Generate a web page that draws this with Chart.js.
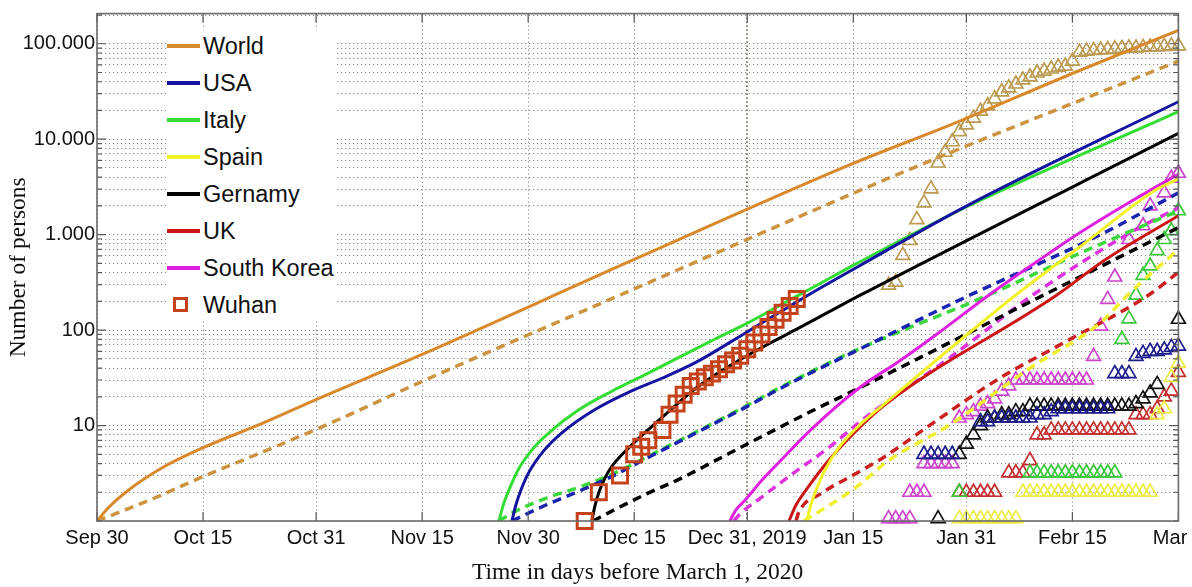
<!DOCTYPE html>
<html>
<head>
<meta charset="utf-8">
<script src="https://cdn.jsdelivr.net/npm/chart.js@4.4.1/dist/chart.umd.min.js"></script>
<style>
  body { margin: 0; background: #fff; }
  #wrap { position: relative; width: 1192px; height: 587px; }
  #legend { position: absolute; left: 166px; top: 30px; width: 171px; height: 291px; background: #fff;
            font-family: 'Liberation Sans', Arial, sans-serif; font-size: 23.5px; color: #111; }
  .row { position: absolute; left: 0; width: 171px; height: 28px; line-height: 28px; }
  .sample { position: absolute; left: 1px; top: 12px; width: 33px; height: 3.5px; }
  .box { position: absolute; left: 7px; top: 6px; width: 15px; height: 15px; box-sizing: border-box; border: 3px solid; }
  .label { position: absolute; left: 37px; top: 0; white-space: nowrap; }
</style>
</head>
<body>
<div id="wrap">
  <canvas id="myChart" width="1192" height="587"></canvas>
  <div id="legend"></div>
</div>
<script>
// AXES (x = days after Sep 30, 2019)
const xTickDays = [0, 15, 31, 46, 61, 76, 92, 107, 123, 138, 153];
const xTickLabels = ['Sep 30', 'Oct 15', 'Oct 31', 'Nov 15', 'Nov 30', 'Dec 15', 'Dec 31, 2019', 'Jan 15', 'Jan 31', 'Febr 15', 'Mar   '];
const yMajorValues = [10, 100, 1000, 10000, 100000];
const yMajorLabels = ['10', '100', '1.000', '10.000', '100.000'];
const yMin = 1;
const yMax = 207000;

// LEGEND
const legendNames = ['World', 'USA', 'Italy', 'Spain', 'Gernamy', 'UK', 'South Korea', 'Wuhan'];
const legendColors = ['#d8892b', '#1414a0', '#33dd33', '#f2f22a', '#000000', '#cc1616', '#e020e0', '#c4421c'];

// MODEL CURVES - solid
const worldFitDays = [0, 1.7, 4.24, 9.05, 14.71, 23.2, 30.83, 46, 76, 106.4, 121.9, 138.5, 153];
const worldFitCases = [1, 1.40, 2.05, 3.55, 5.73, 10.4, 18.5, 55.6, 550, 5350, 15300, 50600, 138000];
const usaFitDays = [58.7, 59.26, 59.97, 61.1, 63.22, 65.77, 70.58, 75.25, 79.92, 84.72, 91.8, 96.46, 101.13, 107.78, 123.06, 153];
const usaFitCases = [1, 1.47, 2.10, 3.23, 5.46, 8.4, 14.9, 22.4, 31.3, 45.9, 94, 152, 245, 467, 2005, 24700];
const italyFitDays = [56.86, 57.57, 58.56, 59.69, 61.81, 63.93, 68.17, 72.84, 77.65, 82.32, 86.99, 91.8, 96.46, 101.13, 107.78, 123.06, 153];
const italyFitCases = [1, 1.54, 2.36, 3.55, 5.87, 8.4, 14.6, 22.9, 34.4, 51.7, 77.6, 116, 179, 276, 513, 1960, 19400];
const spainFitDays = [100.42, 100.99, 101.84, 102.97, 104.95, 107.78, 111.03, 129.99, 139.32, 149.79, 153];
const spainFitCases = [1, 1.47, 2.2, 3.39, 5.87, 9.93, 16.0, 233, 771, 2940, 3830];
const germanyFitDays = [70.01, 70.44, 71.01, 71.85, 72.84, 75.25, 77.65, 80.48, 84.72, 89.39, 94.06, 98.87, 103.54, 107.78, 153];
const germanyFitCases = [1, 1.43, 2.0, 2.8, 3.73, 5.87, 8.6, 13.2, 24.6, 41.7, 65.6, 101, 155, 228, 11500];
const ukFitDays = [97.9, 98.9, 100.3, 103.5, 107.4, 111.6, 135.8, 142.7, 153];
const ukFitCases = [1, 1.47, 2.1, 4.3, 8.8, 16.8, 233, 550, 1580];
const koreaFitDays = [89.53, 90.38, 91.8, 94.06, 96.46, 101.13, 107.78, 113.44, 119.1, 126.59, 133.24, 139.32, 145.97, 153];
const koreaFitCases = [1, 1.30, 1.69, 2.67, 4.10, 9.24, 24.6, 47, 94, 245, 538, 1077, 2155, 4300];

// MODEL CURVES - dashed
const worldDashDays = [0, 4.24, 9.05, 14.71, 23.2, 32.53, 46, 76, 114.4, 153];
const worldDashCases = [1, 1.33, 1.86, 2.86, 5.2, 10.2, 29, 270, 4630, 65800];
const usaDashDays = [58.7, 63.51, 68.17, 72.84, 77.65, 82.32, 86.99, 91.8, 96.46, 101.13, 107.78, 122.35, 141.73, 153];
const usaDashCases = [1, 1.47, 2.05, 2.93, 4.51, 6.77, 10.2, 15.6, 24.0, 36.1, 62.6, 212, 979, 2740];
const italyDashDays = [56.86, 58.7, 63.51, 68.17, 72.84, 77.65, 82.32, 86.99, 91.8, 96.46, 101.13, 107.78, 125.46, 139.32, 153];
const italyDashCases = [1, 1.21, 1.73, 2.25, 3.08, 4.62, 6.94, 10.4, 16.0, 24.6, 37.0, 63.5, 222, 652, 1780];
const spainDashDays = [100, 102.5, 107.4, 112, 120.5, 132, 142, 146, 153];
const spainDashCases = [1, 1.3, 2.25, 4.3, 10, 40, 120, 240, 700];
const germanyDashDays = [70.16, 72.84, 77.65, 82.32, 86.99, 91.8, 96.46, 101.13, 107.78, 133.94, 153];
const germanyDashCases = [1, 1.27, 1.91, 2.73, 4.10, 6.3, 9.46, 14.2, 24.6, 233, 1185];
const ukDashDays = [98.9, 99.3, 102.5, 107.4, 111, 118.1, 127.6, 137.1, 148.8, 153];
const ukDashCases = [1, 1.24, 1.95, 3.15, 4.5, 10.4, 31, 76, 233, 404];
const koreaDashDays = [90.1, 90.95, 94.06, 98.87, 103.54, 107.78, 110.18, 120.51, 132.81, 146.96, 153];
const koreaDashCases = [1, 1.18, 1.78, 3.31, 5.87, 10.7, 14.6, 50.5, 245, 1130, 1910];

// REPORTED CASES (markers)
const wuhanDays = [69, 71, 74, 76, 77, 78, 80, 81, 82, 83, 84, 85, 86, 87, 88, 89, 90, 91, 92, 93, 94, 95, 96, 97, 98, 99];
const wuhanCases = [1, 2, 3, 5, 6, 7, 9, 13, 17, 21, 26, 29, 32, 35, 39, 44, 48, 54, 63, 74, 90, 108, 128, 152, 179, 212];
const worldDataDays = [112, 113, 114, 115, 116, 117, 118, 119, 120, 121, 122, 123, 124, 125, 126, 127, 128, 129, 130, 131, 132,
  133, 134, 135, 136, 137, 138, 139, 140, 141, 142, 143, 144, 145, 146, 147, 148, 149, 150, 151, 152, 153];
const worldDataCases = [296, 318, 607, 868, 1436, 2155, 3020, 5630, 7300, 9400, 12000, 14100, 16600, 19700, 22400, 26500, 31400,
  34500, 37900, 41800, 44900, 49400, 51800, 54400, 57000, 58400, 65800, 81600, 83600, 85000, 86000, 87000, 88500, 89500,
  90500, 90500, 91600, 92700, 92700, 93800, 94900, 94900];
const usaDataDays = [117, 118, 119, 120, 121, 125, 126, 127, 128, 129, 130, 131, 132, 133, 134, 135, 136, 137, 138, 139, 140,
  141, 142, 143, 144, 145, 146, 147, 148, 149, 150, 151, 152, 153];
const usaDataCases = [5, 5, 5, 5, 5, 11, 11, 12, 12, 12, 12, 12, 12, 13, 13, 14, 15, 15, 15, 15, 15,
  15, 15, 15, 35, 35, 35, 53, 57, 60, 60, 62, 66, 68];
const italyDataDays = [122, 132, 133, 134, 135, 136, 137, 138, 139, 140, 141, 142, 143, 144, 145, 146, 147, 148, 149, 150, 151, 152, 153];
const italyDataCases = [2, 3.2, 3.2, 3.2, 3.2, 3.2, 3.2, 3.2, 3.2, 3.2, 3.2, 3.2, 3.2, 3.2, 80, 131, 233, 375, 470, 680, 890, 1100, 1780];
const spainDataDays = [122, 123, 124, 125, 126, 127, 128, 129, 130, 131, 132, 133, 134, 135, 136, 137, 138, 139, 140,
  141, 142, 143, 144, 145, 146, 147, 148, 149, 150, 151, 152, 153];
const spainDataCases = [1.06, 1.06, 1.06, 1.06, 1.06, 1.06, 1.06, 1.06, 1.06, 2, 2, 2, 2, 2, 2, 2, 2, 2, 2,
  2, 2, 2, 2, 2, 2, 2, 2, 2, 13, 15, 32, 45];
const germanyDataDays = [119, 122, 123, 124, 125, 126, 127, 128, 129, 130, 131, 132, 133, 134, 135, 136, 137, 138, 139, 140,
  141, 142, 143, 144, 145, 146, 147, 148, 149, 150, 153];
const germanyDataCases = [1.06, 5, 6.4, 8, 10, 12, 12, 13, 13, 14, 14, 16, 16, 16, 16, 16, 16, 16, 16, 16,
  16, 16, 16, 16, 16, 16, 17, 19, 22, 27, 130];
const ukDataDays = [122, 123, 124, 125, 126, 127, 129, 130, 131, 132, 133, 134, 135, 136, 137, 138, 139, 140, 141, 142,
  143, 144, 145, 146, 147, 148, 149, 150, 151, 152, 153];
const ukDataCases = [2, 2, 2, 2, 2, 2, 3.2, 3.2, 3.2, 4.3, 8, 8, 9, 9, 9, 9, 9, 9, 9, 9,
  9, 9, 9, 9, 13, 13, 13, 15, 20, 23, 36];
const koreaDataDays = [112, 113, 114, 115, 115, 116, 117, 117, 118, 119, 120, 121, 122, 123, 124, 125, 126, 127, 128, 129,
  130, 131, 132, 133, 134, 135, 136, 137, 138, 139, 140, 141, 142, 143, 144, 146, 148, 149, 151, 152, 153];
const koreaDataCases = [1.06, 1.06, 1.06, 1.06, 2, 2, 2, 4, 4, 4, 4, 4, 12, 13, 14, 16, 17, 19, 23, 26,
  30, 30, 30, 30, 30, 30, 30, 30, 30, 30, 30, 53, 110, 210, 360, 890, 1240, 2000, 2740, 3900, 4400];

// HELPERS
function toPoints(days, values) {
  return days.map((d, i) => ({ x: d, y: values[i] }));
}

function curve(days, values, color, dashed) {
  return {
    data: toPoints(days, values),
    showLine: true,
    borderColor: color,
    backgroundColor: color,
    borderWidth: dashed ? 3.5 : 3,
    borderDash: dashed ? [9, 6] : [],
    pointRadius: 0,
    pointHoverRadius: 0,
    cubicInterpolationMode: 'monotone',
    fill: false
  };
}

function markers(days, values, color, style, radius, width) {
  return {
    data: toPoints(days, values),
    showLine: false,
    pointStyle: style,
    pointRadius: radius,
    pointHoverRadius: radius,
    pointBorderWidth: width,
    pointBorderColor: color,
    pointBackgroundColor: 'rgba(0,0,0,0)',
    clip: false
  };
}

// FRAME + INWARD TICK MARKS
const frame = {
  id: 'frame',
  afterDraw(chart) {
    const { ctx, chartArea: a, scales: { x, y } } = chart;
    ctx.save();
    ctx.strokeStyle = '#555';
    ctx.lineWidth = 1.2;
    ctx.beginPath();
    x.ticks.forEach(t => {
      const px = x.getPixelForValue(t.value);
      ctx.moveTo(px, a.bottom); ctx.lineTo(px, a.bottom - 9);
      ctx.moveTo(px, a.top); ctx.lineTo(px, a.top + 9);
    });
    y.ticks.forEach(t => {
      const py = y.getPixelForValue(t.value);
      const len = yMajorValues.includes(t.value) ? 9 : 5;
      ctx.moveTo(a.left, py); ctx.lineTo(a.left + len, py);
      ctx.moveTo(a.right, py); ctx.lineTo(a.right - len, py);
    });
    ctx.stroke();
    ctx.strokeStyle = '#6a6a6a';
    ctx.lineWidth = 1.6;
    ctx.strokeRect(a.left, a.top, a.right - a.left, a.bottom - a.top);
    ctx.restore();
  }
};

const tickFont = { family: "'Liberation Sans', Arial, sans-serif", size: 20 };
const titleFont = { family: "'Liberation Serif', 'Times New Roman', serif", size: 23.5 };

const datasets = [
  markers(wuhanDays, wuhanCases, legendColors[7], 'rect', 10.6, 3),
  curve(worldFitDays, worldFitCases, '#d8892b', false),
  curve(usaFitDays, usaFitCases, '#1414a0', false),
  curve(italyFitDays, italyFitCases, '#33dd33', false),
  curve(spainFitDays, spainFitCases, '#f2f22a', false),
  curve(germanyFitDays, germanyFitCases, '#000000', false),
  curve(ukFitDays, ukFitCases, '#cc1616', false),
  curve(koreaFitDays, koreaFitCases, '#e020e0', false),
  curve(worldDashDays, worldDashCases, '#cc9440', true),
  curve(usaDashDays, usaDashCases, '#1a24b0', true),
  curve(italyDashDays, italyDashCases, '#3ad83a', true),
  curve(spainDashDays, spainDashCases, '#f0f030', true),
  curve(germanyDashDays, germanyDashCases, '#000000', true),
  curve(ukDashDays, ukDashCases, '#cc2020', true),
  curve(koreaDashDays, koreaDashCases, '#dd33dd', true),
  markers(worldDataDays, worldDataCases, '#bb9a52', 'triangle', 8, 1.7),
  markers(usaDataDays, usaDataCases, '#1c1c8c', 'triangle', 8, 1.7),
  markers(italyDataDays, italyDataCases, '#3cc83c', 'triangle', 8, 1.7),
  markers(spainDataDays, spainDataCases, '#ecec44', 'triangle', 8, 1.7),
  markers(germanyDataDays, germanyDataCases, '#111111', 'triangle', 8, 1.7),
  markers(ukDataDays, ukDataCases, '#c43030', 'triangle', 8, 1.7),
  markers(koreaDataDays, koreaDataCases, '#cc44cc', 'triangle', 8, 1.7)
];

new Chart(document.getElementById('myChart'), {
  type: 'scatter',
  data: { datasets },
  plugins: [frame],
  options: {
    responsive: false,
    animation: false,
    devicePixelRatio: 1,
    layout: { padding: { left: 0, right: 11, top: 9, bottom: 0 } },
    plugins: { legend: { display: false }, tooltip: { enabled: false } },
    scales: {
      x: {
        type: 'linear',
        min: 0,
        max: 153,
        afterBuildTicks: scale => { scale.ticks = xTickDays.map(v => ({ value: v })); },
        afterFit: scale => { scale.height = 66; scale.paddingLeft = 0; scale.paddingRight = 0; },
        ticks: {
          autoSkip: false, maxRotation: 0, padding: 5, color: '#111', font: tickFont,
          callback: v => { const i = xTickDays.indexOf(v); return i >= 0 ? xTickLabels[i] : ''; }
        },
        grid: {
          drawTicks: false,
          color: c => (c.tick && c.tick.value === 92) ? '#6e5238' : '#8a8a8a',
          lineWidth: c => (c.tick && c.tick.value === 92) ? 2 : 1
        },
        border: { display: false, dash: [1.2, 2.8] },
        title: { display: true, text: 'Time in days before March 1, 2020', color: '#111', font: titleFont, padding: { top: 0, bottom: 0 } }
      },
      y: {
        type: 'logarithmic',
        min: yMin,
        max: yMax,
        afterBuildTicks: scale => {
          const vals = [];
          for (let e = 0; e <= 5; e++) {
            for (let m = 1; m <= 9; m++) {
              const v = m * Math.pow(10, e);
              if (v <= yMax) vals.push(v);
            }
          }
          scale.ticks = vals.map(v => ({ value: v }));
        },
        afterFit: scale => { scale.width = 97; scale.paddingTop = 0; scale.paddingBottom = 0; },
        ticks: {
          autoSkip: false, padding: 2, color: '#111', font: tickFont,
          callback: v => { const i = yMajorValues.indexOf(v); return i >= 0 ? yMajorLabels[i] : ''; }
        },
        grid: { drawTicks: false, color: '#8a8a8a', lineWidth: 1 },
        border: { display: false, dash: [1.2, 2.8] },
        title: { display: true, text: 'Number of persons', color: '#111', font: titleFont, padding: { top: 5, bottom: 0 } }
      }
    }
  }
});

// HTML LEGEND (drawn over the chart area, white box like the original)
const legend = document.getElementById('legend');
legendNames.forEach((name, i) => {
  const row = document.createElement('div');
  row.className = 'row';
  row.style.top = (46 + 37 * i - 14 - 30) + 'px';
  const mark = document.createElement('span');
  if (name === 'Wuhan') {
    mark.className = 'box';
    mark.style.borderColor = legendColors[i];
  } else {
    mark.className = 'sample';
    mark.style.background = legendColors[i];
  }
  const label = document.createElement('span');
  label.className = 'label';
  label.textContent = name;
  row.appendChild(mark);
  row.appendChild(label);
  legend.appendChild(row);
});
</script>
</body>
</html>
